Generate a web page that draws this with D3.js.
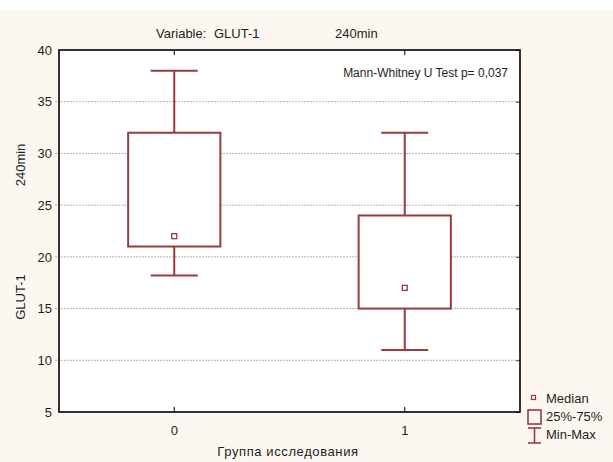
<!DOCTYPE html>
<html>
<head>
<meta charset="utf-8">
<script src="https://cdn.jsdelivr.net/npm/d3@7"></script>
<style>
  body { margin: 0; background: #fff; }
  text { font-family: "Liberation Sans", Arial, sans-serif; fill: #1e1e1e; }
</style>
</head>
<body>
<script>
// box plot values per group
var groups = ["0", "1"];
var minV = [18.2, 11];
var q1 = [21, 15];
var medians = [22, 17];
var q3 = [32, 24];
var maxV = [38, 32];
var yTicks = [5, 10, 15, 20, 25, 30, 35, 40];

var W = 613, H = 462;
var boxColor = "#9a3a3e";

var svg = d3.select("body").append("svg")
    .attr("width", W)
    .attr("height", H);

// cream background under the top white strip
svg.append("rect")
    .attr("x", 0).attr("y", 10)
    .attr("width", W).attr("height", H - 10)
    .attr("fill", "#fcf8f1");

var plot = { left: 59, right: 520, top: 50, bottom: 412 };

var x = d3.scaleBand()
    .domain(groups)
    .range([plot.left, plot.right]);

var y = d3.scaleLinear()
    .domain([5, 40])
    .range([plot.bottom, plot.top]);

svg.append("rect")
    .attr("x", plot.left).attr("y", plot.top)
    .attr("width", plot.right - plot.left)
    .attr("height", plot.bottom - plot.top)
    .attr("fill", "#fff");

// gridlines
svg.append("g")
  .selectAll("line")
  .data(yTicks.slice(1, -1))
  .enter().append("line")
    .attr("x1", plot.left - 4)
    .attr("x2", plot.right)
    .attr("y1", function (d) { return y(d); })
    .attr("y2", function (d) { return y(d); })
    .attr("stroke", "#b4b4b4")
    .attr("stroke-dasharray", "2,1");

var bw = x.bandwidth();
var cx = function (i) { return x(groups[i]) + bw / 2; };
var idx = d3.range(groups.length);

var g = svg.append("g")
    .attr("stroke", boxColor)
    .attr("stroke-width", 2)
    .attr("fill", "none");

// whiskers
g.selectAll(".whisker")
  .data(idx)
  .enter().append("line")
    .attr("x1", cx).attr("x2", cx)
    .attr("y1", function (i) { return y(maxV[i]); })
    .attr("y2", function (i) { return y(minV[i]); });

g.selectAll(".capTop")
  .data(idx)
  .enter().append("line")
    .attr("x1", function (i) { return cx(i) - bw * 0.102; })
    .attr("x2", function (i) { return cx(i) + bw * 0.102; })
    .attr("y1", function (i) { return y(maxV[i]); })
    .attr("y2", function (i) { return y(maxV[i]); });

g.selectAll(".capBot")
  .data(idx)
  .enter().append("line")
    .attr("x1", function (i) { return cx(i) - bw * 0.102; })
    .attr("x2", function (i) { return cx(i) + bw * 0.102; })
    .attr("y1", function (i) { return y(minV[i]); })
    .attr("y2", function (i) { return y(minV[i]); });

// boxes
g.selectAll(".box")
  .data(idx)
  .enter().append("rect")
    .attr("x", function (i) { return cx(i) - bw * 0.2; })
    .attr("width", bw * 0.4)
    .attr("y", function (i) { return y(q3[i]); })
    .attr("height", function (i) { return y(q1[i]) - y(q3[i]); })
    .attr("fill", "#fff");

// medians
g.selectAll(".median")
  .data(idx)
  .enter().append("rect")
    .attr("x", function (i) { return cx(i) - 2.5; })
    .attr("y", function (i) { return y(medians[i]) - 2.5; })
    .attr("width", 5).attr("height", 5)
    .attr("stroke-width", 1.3);

// axes
var fontSize = "13px";

var yAxis = svg.append("g")
    .attr("transform", "translate(" + plot.left + ",0)")
    .call(d3.axisLeft(y).tickValues(yTicks).tickSize(0).tickPadding(7));
yAxis.select(".domain").remove();
yAxis.selectAll("text").style("font-size", fontSize).attr("fill", "#1e1e1e");

var xAxis = svg.append("g")
    .attr("transform", "translate(0," + plot.bottom + ")")
    .call(d3.axisBottom(x).tickSizeInner(-5).tickSizeOuter(0).tickPadding(14));
xAxis.select(".domain").remove();
xAxis.selectAll("line").attr("stroke", "#000");
xAxis.selectAll("text").style("font-size", fontSize).attr("fill", "#1e1e1e");

var topAxis = svg.append("g")
    .attr("transform", "translate(0," + plot.top + ")")
    .call(d3.axisTop(x).tickSizeInner(-5).tickSizeOuter(0).tickFormat(""));
topAxis.select(".domain").remove();
topAxis.selectAll("line").attr("stroke", "#000");

var rightAxis = svg.append("g")
    .attr("transform", "translate(" + plot.right + ",0)")
    .call(d3.axisRight(y).tickValues(yTicks).tickSizeInner(-4).tickSizeOuter(0).tickFormat(""));
rightAxis.select(".domain").remove();
rightAxis.selectAll("line").attr("stroke", "#444");

// frame
svg.append("rect")
    .attr("x", plot.left).attr("y", plot.top)
    .attr("width", plot.right - plot.left)
    .attr("height", plot.bottom - plot.top)
    .attr("fill", "none")
    .attr("stroke", "#000")
    .attr("stroke-width", 1.6);

// titles
svg.append("text")
    .attr("x", 156).attr("y", 38)
    .style("font-size", fontSize)
    .text("Variable:");
svg.append("text")
    .attr("x", 214).attr("y", 38)
    .style("font-size", fontSize)
    .text("GLUT-1");
svg.append("text")
    .attr("x", 335).attr("y", 38)
    .style("font-size", fontSize)
    .text("240min");

svg.append("text")
    .attr("x", 508).attr("y", 77)
    .attr("text-anchor", "end")
    .style("font-size", "12px")
    .text("Mann-Whitney U Test p= 0,037");

svg.append("text")
    .attr("transform", "translate(25,165) rotate(-90)")
    .attr("text-anchor", "middle")
    .style("font-size", fontSize)
    .text("240min");
svg.append("text")
    .attr("transform", "translate(25,297) rotate(-90)")
    .attr("text-anchor", "middle")
    .style("font-size", fontSize)
    .text("GLUT-1");

svg.append("text")
    .attr("x", 288).attr("y", 456)
    .attr("text-anchor", "middle")
    .style("font-size", fontSize)
    .style("letter-spacing", "0.6px")
    .text("Группа исследования");

// legend
var leg = svg.append("g")
    .attr("stroke", boxColor)
    .attr("fill", "none");
leg.append("rect")
    .attr("x", 531.5).attr("y", 395.5).attr("width", 4).attr("height", 4)
    .attr("stroke-width", 1.2);
leg.append("rect")
    .attr("x", 528).attr("y", 410).attr("width", 13).attr("height", 14)
    .attr("stroke-width", 1.6);
leg.append("line").attr("x1", 534.5).attr("x2", 534.5).attr("y1", 428).attr("y2", 443).attr("stroke-width", 1.6);
leg.append("line").attr("x1", 528).attr("x2", 541).attr("y1", 428).attr("y2", 428).attr("stroke-width", 1.6);
leg.append("line").attr("x1", 528).attr("x2", 541).attr("y1", 443).attr("y2", 443).attr("stroke-width", 1.6);

var legText = ["Median", "25%-75%", "Min-Max"];
var legY = [403, 421, 439];
svg.selectAll(".legText")
  .data(legText)
  .enter().append("text")
    .attr("x", 546)
    .attr("y", function (d, i) { return legY[i]; })
    .style("font-size", fontSize)
    .text(function (d) { return d; });
</script>
</body>
</html>
